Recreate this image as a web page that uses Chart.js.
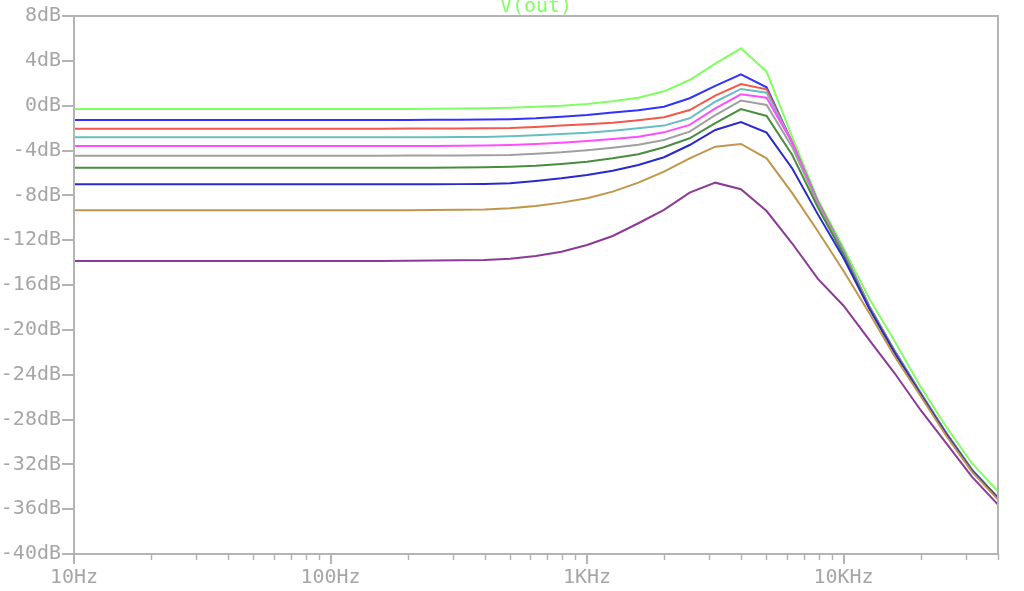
<!DOCTYPE html>
<html>
<head>
<meta charset="utf-8">
<script src="https://cdn.jsdelivr.net/npm/chart.js@4.4.1/dist/chart.umd.min.js"></script>
<style>
  html, body { margin: 0; padding: 0; background: #ffffff; }
  #wrap { width: 1024px; height: 591px; position: relative; }
</style>
</head>
<body>
<div id="wrap"><canvas id="c" width="1024" height="591"></canvas></div>
<script>
// Frequencies (Hz), 10 points per decade
const freqs = [10, 12.59, 15.85, 19.95, 25.12, 31.62, 39.81, 50.12, 63.10, 79.43,
  100, 125.9, 158.5, 199.5, 251.2, 316.2, 398.1, 501.2, 631.0, 794.3,
  1000, 1259, 1585, 1995, 2512, 3162, 3981, 5012, 6310, 7943,
  10000, 12589, 15849, 19953, 25119, 31623, 40000];

// Tick labels
const xTickValues = [10, 100, 1000, 10000];
const xTickLabels = ["10Hz", "100Hz", "1KHz", "10KHz"];
const yTickValues = [8, 4, 0, -4, -8, -12, -16, -20, -24, -28, -32, -36, -40];
const yTickLabels = ["8dB", "4dB", "0dB", "-4dB", "-8dB", "-12dB", "-16dB", "-20dB", "-24dB", "-28dB", "-32dB", "-36dB", "-40dB"];

const titleText = "V(out)";

// Series values (dB)
const s1 = [-0.30, -0.30, -0.30, -0.30, -0.30, -0.30, -0.30, -0.30, -0.30, -0.30,
  -0.30, -0.30, -0.30, -0.29, -0.28, -0.26, -0.23, -0.18, -0.09, 0.00,
  0.15, 0.39, 0.71, 1.28, 2.29, 3.75, 5.12, 3.03, -2.80, -8.40,
  -12.70, -17.20, -21.05, -25.07, -28.64, -31.90, -34.40];
const s2 = [-1.28, -1.28, -1.28, -1.28, -1.28, -1.28, -1.28, -1.28, -1.28, -1.28,
  -1.28, -1.28, -1.28, -1.27, -1.26, -1.25, -1.24, -1.21, -1.13, -0.98,
  -0.83, -0.62, -0.40, -0.09, 0.66, 1.76, 2.80, 1.64, -3.30, -8.60,
  -13.00, -17.90, -21.90, -25.60, -29.20, -32.45, -35.00];
const s3 = [-2.05, -2.05, -2.05, -2.05, -2.05, -2.05, -2.05, -2.05, -2.05, -2.05,
  -2.05, -2.05, -2.05, -2.04, -2.04, -2.03, -2.02, -1.99, -1.90, -1.78,
  -1.66, -1.52, -1.30, -1.04, -0.39, 0.90, 1.93, 1.46, -3.30, -8.60,
  -13.00, -17.90, -21.95, -25.65, -29.20, -32.50, -35.00];
const s4 = [-2.82, -2.82, -2.82, -2.82, -2.82, -2.82, -2.82, -2.82, -2.82, -2.82,
  -2.82, -2.82, -2.82, -2.82, -2.81, -2.80, -2.79, -2.73, -2.65, -2.53,
  -2.41, -2.23, -2.02, -1.78, -1.13, 0.35, 1.49, 1.16, -3.30, -8.65,
  -13.00, -17.90, -21.95, -25.65, -29.20, -32.50, -35.00];
const s5 = [-3.60, -3.60, -3.60, -3.60, -3.60, -3.60, -3.60, -3.60, -3.60, -3.60,
  -3.60, -3.60, -3.60, -3.59, -3.59, -3.58, -3.56, -3.51, -3.42, -3.30,
  -3.15, -2.97, -2.77, -2.38, -1.72, -0.25, 1.01, 0.71, -3.30, -8.70,
  -13.05, -17.90, -21.95, -25.65, -29.20, -32.50, -35.00];
const s6 = [-4.46, -4.46, -4.46, -4.46, -4.46, -4.46, -4.46, -4.46, -4.46, -4.46,
  -4.46, -4.46, -4.46, -4.45, -4.45, -4.44, -4.43, -4.40, -4.28, -4.16,
  -3.98, -3.75, -3.48, -3.06, -2.32, -0.85, 0.45, 0.06, -3.70, -8.80,
  -13.10, -17.95, -21.95, -25.65, -29.20, -32.50, -35.00];
const s7 = [-5.55, -5.55, -5.55, -5.55, -5.55, -5.55, -5.55, -5.55, -5.55, -5.55,
  -5.55, -5.55, -5.55, -5.54, -5.53, -5.52, -5.50, -5.44, -5.35, -5.20,
  -5.00, -4.70, -4.34, -3.71, -2.91, -1.55, -0.30, -0.92, -4.40, -9.10,
  -13.30, -18.00, -22.00, -25.70, -29.25, -32.50, -35.00];
const s8 = [-7.02, -7.02, -7.02, -7.02, -7.02, -7.02, -7.02, -7.02, -7.02, -7.02,
  -7.02, -7.02, -7.02, -7.01, -7.01, -7.00, -6.98, -6.93, -6.72, -6.48,
  -6.18, -5.80, -5.29, -4.60, -3.51, -2.17, -1.46, -2.41, -5.60, -9.70,
  -13.60, -18.10, -22.10, -25.75, -29.30, -32.55, -35.05];
const s9 = [-9.33, -9.33, -9.33, -9.33, -9.33, -9.33, -9.33, -9.33, -9.33, -9.33,
  -9.33, -9.33, -9.33, -9.32, -9.31, -9.29, -9.26, -9.15, -8.95, -8.65,
  -8.26, -7.67, -6.87, -5.89, -4.70, -3.66, -3.42, -4.70, -7.80, -11.20,
  -14.75, -18.50, -22.40, -25.90, -29.45, -32.65, -35.15];
const s10 = [-13.85, -13.85, -13.85, -13.85, -13.85, -13.85, -13.85, -13.85, -13.85, -13.85,
  -13.85, -13.85, -13.85, -13.84, -13.82, -13.80, -13.77, -13.65, -13.41, -13.03,
  -12.43, -11.63, -10.49, -9.30, -7.76, -6.87, -7.46, -9.40, -12.30, -15.45,
  -17.85, -20.90, -23.90, -27.15, -30.10, -33.10, -35.60];

const seriesList = [s1, s2, s3, s4, s5, s6, s7, s8, s9, s10];
const seriesColors = ["#80ff60", "#3232ff", "#f5574a", "#68bfbf", "#ff4dff",
  "#a0a0a0", "#4a8c40", "#2a2acc", "#c0964c", "#8c3a96"];

const AXIS_COLOR = "#b4b4b4";
const LABEL_COLOR = "#a6a6a6";
const FONT = "'DejaVu Sans Mono', 'Liberation Mono', monospace";

const datasets = seriesList.map((s, i) => ({
  label: "step " + (i + 1),
  data: freqs.map((f, j) => ({ x: f, y: s[j] })),
  borderColor: seriesColors[i],
  backgroundColor: seriesColors[i],
  borderWidth: 2,
  pointRadius: 0,
  tension: 0,
  fill: false,
  order: seriesList.length - 1 - i
}));

const framePlugin = {
  id: "frame",
  afterDraw(chart) {
    const ctx = chart.ctx;
    const a = chart.chartArea;
    const xs = chart.scales.x;
    ctx.save();
    ctx.strokeStyle = AXIS_COLOR;
    ctx.lineWidth = 2;
    ctx.strokeRect(a.left, a.top, a.right - a.left, a.bottom - a.top);
    // minor x ticks
    ctx.lineWidth = 1.5;
    for (let d = 10; d <= 10000; d *= 10) {
      for (let m = 2; m <= 9; m++) {
        const v = m * d;
        if (v > xs.max) continue;
        const px = Math.round(xs.getPixelForValue(v)) + 0.5;
        ctx.beginPath();
        ctx.moveTo(px, a.bottom);
        ctx.lineTo(px, a.bottom + 6);
        ctx.stroke();
      }
    }
    // title
    ctx.fillStyle = seriesColors[0];
    ctx.font = "20px " + FONT;
    ctx.textAlign = "center";
    ctx.textBaseline = "alphabetic";
    ctx.fillText(titleText, (a.left + a.right) / 2, 12);
    ctx.restore();
  }
};

new Chart(document.getElementById("c"), {
  type: "line",
  data: { datasets },
  options: {
    responsive: false,
    animation: false,
    devicePixelRatio: 1,
    layout: { padding: { left: 0, right: 26, top: 16, bottom: 0 } },
    plugins: { legend: { display: false }, tooltip: { enabled: false }, title: { display: false } },
    scales: {
      x: {
        type: "logarithmic",
        min: 10,
        max: 40000,
        afterBuildTicks(scale) { scale.ticks = xTickValues.map(v => ({ value: v })); },
        afterFit(scale) { scale.height = 37; },
        border: { display: false },
        grid: { drawOnChartArea: false, drawTicks: true, tickLength: 10, color: AXIS_COLOR, tickColor: AXIS_COLOR, lineWidth: 2 },
        ticks: {
          autoSkip: false, maxRotation: 0, minRotation: 0, padding: 2,
          color: LABEL_COLOR, font: { family: FONT, size: 20 },
          callback(v) { const k = xTickValues.indexOf(v); return k >= 0 ? xTickLabels[k] : ""; }
        }
      },
      y: {
        type: "linear",
        min: -40,
        max: 8,
        afterBuildTicks(scale) { scale.ticks = yTickValues.map(v => ({ value: v })); },
        afterFit(scale) { scale.width = 74; },
        border: { display: false },
        grid: { drawOnChartArea: false, drawTicks: true, tickLength: 12, color: AXIS_COLOR, tickColor: AXIS_COLOR, lineWidth: 2 },
        ticks: {
          autoSkip: false, padding: 1,
          color: LABEL_COLOR, font: { family: FONT, size: 20 },
          callback(v) { const k = yTickValues.indexOf(v); return k >= 0 ? yTickLabels[k] : ""; }
        }
      }
    }
  },
  plugins: [framePlugin]
});
</script>
</body>
</html>
